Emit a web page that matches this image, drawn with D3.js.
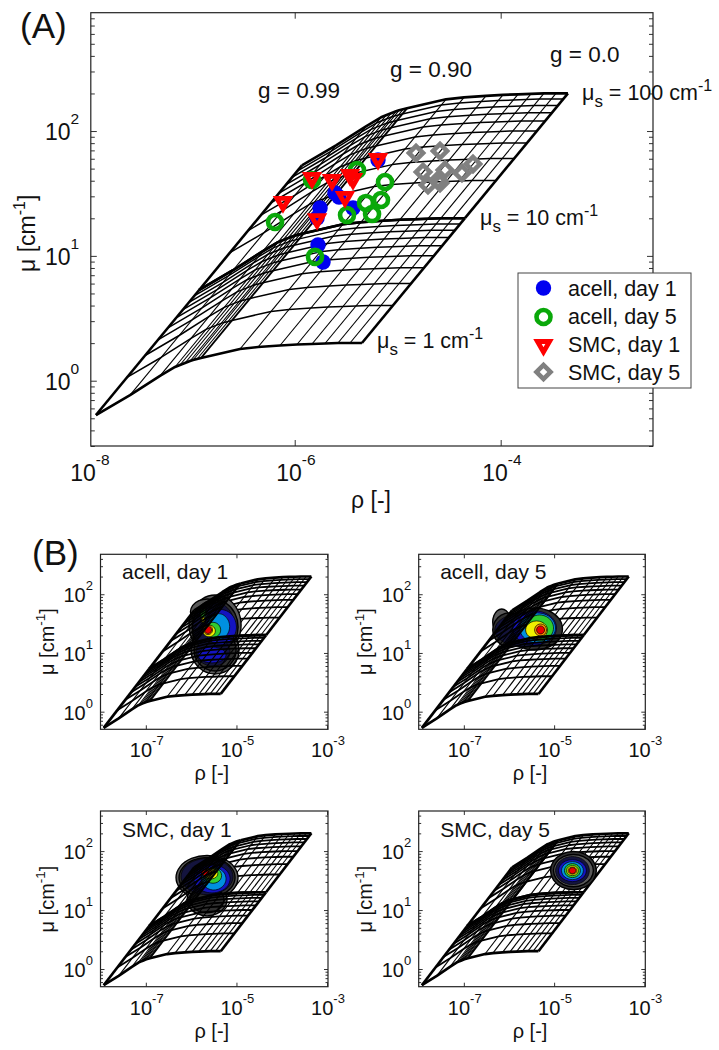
<!DOCTYPE html>
<html><head><meta charset="utf-8">
<style>html,body{margin:0;padding:0;background:#fff}svg{display:block}text{font-family:"Liberation Sans",Arial,sans-serif;fill:#111}</style>
<script src="https://cdn.jsdelivr.net/npm/d3@7"></script></head><body>
<script>
// ---- mesh: position of every constant-g line at mu_s = 1 cm-1 (log10 units)
const meshG      = [0.99,0.98,0.97,0.96,0.95,0.94,0.93,0.92,0.91,0.90,0.8,0.7,0.6,0.5,0.4,0.3,0.2,0.1,0.0];
const meshLogRho = [-7.93,-7.599,-7.308,-7.162,-7.114,-7.065,-7.016,-6.987,-6.948,-6.91,-6.531,-6.356,-6.143,-5.978,-5.832,-5.706,-5.58,-5.463,-5.347];
const meshLogMu  = [-0.275,-0.115,0.038,0.11,0.126,0.142,0.158,0.166,0.174,0.182,0.254,0.27,0.282,0.29,0.294,0.298,0.302,0.302,0.302];
const musLow  = [1,2,3,4,5,6,7,8,9,10];
const musHigh = [10,20,30,40,50,60,70,80,90,100];
// ---- markers of panel A (log10 rho, log10 mu)
const acellDay1 = [[-5.754,1.384],[-5.609,1.504],[-5.434,1.384],[-5.191,1.768],[-5.774,1.087],[-5.725,0.951],[-5.783,1.303],[-5.57,1.472]];
const acellDay5 = [[-6.191,1.271],[-5.803,0.992],[-5.492,1.327],[-5.308,1.424],[-5.162,1.448],[-5.249,1.335],[-5.123,1.592],[-5.395,1.688],[-5.832,1.608]];
const smcDay1   = [[-6.114,1.432],[-5.832,1.624],[-5.638,1.608],[-5.463,1.648],[-5.434,1.616],[-5.512,1.472],[-5.783,1.295],[-5.191,1.776]];
const smcDay5   = [[-4.822,1.824],[-4.589,1.84],[-4.754,1.672],[-4.541,1.688],[-4.706,1.568],[-4.589,1.584],[-4.608,1.608],[-4.376,1.664],[-4.269,1.736]];
const legendNames = ["acell, day 1","acell, day 5","SMC, day 1","SMC, day 5"];
// ---- colour levels of the density plots, outside to inside
const levelColors = ["#5a5a5a","#303030","#14143e","#1414c0","#0090e0","#20d8c0","#30cc30","#f0f000","#ff9000","#e80000"];
// each contour: [level, log10 rho, log10 mu, half-width, half-height] in decades
const contoursAcell1 = [[0,-5.472,1.477,.574,.511],[0,-5.472,1.051,.53,.409],[0,-5.64,1.70,.375,.22],
 [1,-5.472,1.443,.508,.46],[1,-5.472,1.051,.464,.358],[2,-5.494,1.426,.464,.443],[2,-5.517,1.017,.375,.239],
 [3,-5.35,1.44,.35,.30],[3,-5.539,0.966,.309,.136],[4,-5.40,1.45,.25,.22],[6,-5.517,1.392,.17,.13],
 [7,-5.605,1.375,.14,.10],[8,-5.627,1.392,.10,.08],[9,-5.627,1.392,.077,.06],[6,-5.737,1.681,.066,.085],[7,-5.737,1.562,.044,.051]];
const contoursAcell5 = [[0,-6.161,1.528,.199,.221],[1,-5.985,1.392,.375,.29],[1,-5.433,1.409,.618,.358],
 [2,-5.653,1.392,.662,.29],[3,-5.433,1.426,.486,.29],[4,-5.366,1.426,.397,.256],[6,-5.322,1.426,.309,.221],
 [7,-5.389,1.392,.243,.153],[8,-5.3,1.392,.132,.102],[9,-5.3,1.392,.088,.068]];
const contoursSmc1 = [[0,-5.649,1.55,.684,.375],[0,-5.649,1.175,.442,.273],[1,-5.649,1.55,.618,.341],[1,-5.649,1.175,.375,.221],
 [2,-5.649,1.567,.574,.307],[3,-5.54,1.53,.40,.24],[4,-5.50,1.53,.27,.19],[6,-5.517,1.584,.19,.13],
 [7,-5.561,1.618,.15,.09],[8,-5.649,1.635,.11,.06],[9,-5.693,1.635,.08,.05]];
const contoursSmc5 = [[1,-4.572,1.669,.508,.324],[0,-4.572,1.669,.442,.273],[2,-4.594,1.669,.375,.239],[3,-4.594,1.669,.309,.187],
 [4,-4.594,1.669,.243,.153],[6,-4.594,1.669,.177,.119],[7,-4.594,1.669,.132,.085],[8,-4.594,1.669,.099,.06],[9,-4.594,1.669,.077,.051]];
const panelNames = ["acell, day 1","acell, day 5","SMC, day 1","SMC, day 5"];
const panelContours = [contoursAcell1,contoursAcell5,contoursSmc1,contoursSmc5];
const mainXTicks = [-8,-6,-4], mainYTicks = [0,1,2];
const smallXTicks = [-7,-5,-3], smallYTicks = [0,1,2];

const svg = d3.select("body").append("svg").attr("width",719).attr("height",1050).attr("viewBox","0 0 719 1050");
svg.append("rect").attr("width",719).attr("height",1050).attr("fill","#fff");

function makeScales(box,xd,yd){
  return {x:d3.scaleLog().domain(xd.map(v=>10**v)).range([box.l,box.r]),
          y:d3.scaleLog().domain(yd.map(v=>10**v)).range([box.b,box.t])};
}
function drawMesh(g,s,w,opt){
  const px=(i,m)=>s.x(10**meshLogRho[i]*m), py=(i,m)=>s.y(10**meshLogMu[i]*m);
  const line=d3.line().x(d=>px(d.i,d.m)).y(d=>py(d.i,d.m));
  const idx=meshG.map((_,i)=>i).filter(i=>meshG[i]>=opt.gMin&&meshG[i]<=opt.gMax);
  const mids=opt.mus;
  // curves of constant scattering
  mids.forEach(m=>{
    const heavy=(m===1||m===10||m===100);
    g.append("path").attr("d",line(idx.map(i=>({i,m})))).attr("fill","none").attr("stroke","#000")
      .attr("stroke-width",heavy?w.heavy:w.curve).attr("stroke-linejoin","round");
  });
  // lines of constant anisotropy
  idx.forEach(i=>{
    const heavy=(meshG[i]===0.99||meshG[i]===0);
    const mid=meshG[i]===0.9;
    g.append("path").attr("d",line([{i,m:mids[0]},{i,m:mids[mids.length-1]}])).attr("fill","none").attr("stroke","#000")
      .attr("stroke-width",heavy?w.heavy:(mid?w.mid:w.thin));
  });
}
function drawFrame(s,box,xt,yt,major,minor){
  const gg=svg.append("g");
  const minors=[];
  d3.range(Math.floor(Math.log10(s.y.domain()[0])),Math.ceil(Math.log10(s.y.domain()[1]))).forEach(d=>{
    d3.range(2,10).forEach(n=>{const v=n*10**d; if(v>=s.y.domain()[0]&&v<=s.y.domain()[1]) minors.push(v);});
  });
  const xv=xt.map(v=>10**v).filter(v=>v>=s.x.domain()[0]&&v<=s.x.domain()[1]), yv=yt.map(v=>10**v);
  const add=(axis,tr)=>{const a=gg.append("g").attr("transform",tr).call(axis);a.select(".domain").remove();a.selectAll("line").attr("stroke","#333").attr("stroke-width",1);a.selectAll("text").remove();};
  add(d3.axisBottom(s.x).tickValues(xv).tickSize(-major),`translate(0,${box.b})`);
  add(d3.axisTop(s.x).tickValues(xv).tickSize(-major),`translate(0,${box.t})`);
  add(d3.axisLeft(s.y).tickValues(yv).tickSize(-major),`translate(${box.l},0)`);
  add(d3.axisRight(s.y).tickValues(yv).tickSize(-major),`translate(${box.r},0)`);
  add(d3.axisLeft(s.y).tickValues(minors).tickSize(-minor),`translate(${box.l},0)`);
  add(d3.axisRight(s.y).tickValues(minors).tickSize(-minor),`translate(${box.r},0)`);
  gg.append("rect").attr("x",box.l).attr("y",box.t).attr("width",box.r-box.l).attr("height",box.b-box.t)
    .attr("fill","none").attr("stroke","#222").attr("stroke-width",1.2);
}
function pow10(x,y,exp,size,supSize,rise,parent){
  const t=(parent||svg).append("text").attr("x",x).attr("y",y).attr("font-size",size);
  t.append("tspan").text("10");
  t.append("tspan").attr("dy",-rise).attr("font-size",supSize).text(exp);
  return t;
}
function muTitle(x,y,size,supSize){
  const t=svg.append("text").attr("transform",`translate(${x},${y}) rotate(-90)`).attr("font-size",size);
  t.append("tspan").text("μ [cm");
  t.append("tspan").attr("dy",-size*0.42).attr("font-size",supSize).text("-1");
  t.append("tspan").attr("dy",size*0.42).text("]");
}
function musLabel(x,y,val){
  const t=svg.append("text").attr("x",x).attr("y",y).attr("font-size",21.5);
  t.append("tspan").text("μ");
  t.append("tspan").attr("dy",7).attr("font-size",17).text("s");
  t.append("tspan").attr("dy",-7).text(" = "+val+" cm");
  t.append("tspan").attr("dy",-9).attr("font-size",16).text("-1");
}

// ---------- panel A
const A={l:90.8,r:653,t:12.7,b:446};
const sA=makeScales(A,[-7.98,-2.521],[-0.523,2.948]);
const wA={thin:1.1,mid:1.9,curve:1.5,heavy:2.6};
drawFrame(sA,A,mainXTicks,mainYTicks,6,4);
const meshA=svg.append("g");
drawMesh(meshA,sA,wA,{gMin:0,gMax:1,mus:musLow});
drawMesh(meshA,sA,wA,{gMin:0,gMax:1,mus:musHigh});

const px=d=>sA.x(10**d[0]), py=d=>sA.y(10**d[1]);
function marker(sel,kind){
  if(kind===0) sel.append("circle").attr("r",7.7).attr("fill","#0000f0");
  if(kind===1) sel.append("circle").attr("r",7).attr("fill","none").attr("stroke","#0aa80a").attr("stroke-width",4.6);
  if(kind===2) sel.append("path").attr("d",d3.symbol().type(d3.symbolTriangle).size(64)()).attr("transform","rotate(180)")
      .attr("fill","none").attr("stroke","#ff0000").attr("stroke-width",4.8);
  if(kind===3) sel.append("path").attr("d",d3.symbol().type(d3.symbolSquare).size(100)()).attr("transform","rotate(45)")
      .attr("fill","none").attr("stroke","#808080").attr("stroke-width",4.6);
}
[acellDay1,acellDay5,smcDay1,smcDay5].forEach((arr,k)=>{
  arr.forEach(d=>{ marker(svg.append("g").attr("transform",`translate(${px(d)},${py(d)})`),k); });
});
mainXTicks.forEach(v=>pow10(sA.x(10**v)-18.5,481,String(v),23,15.5,16));
mainYTicks.forEach(v=>pow10(45,sA.y(10**v)+9,String(v),23,15.5,16));
svg.append("text").attr("x",371).attr("y",508).attr("text-anchor","middle").attr("font-size",23).text("ρ [-]");
muTitle(35,272,23,16);
svg.append("text").attr("x",20).attr("y",38).attr("font-size",35).text("(A)");
svg.append("text").attr("x",32).attr("y",565).attr("font-size",35).text("(B)");
[["g = 0.99",258,98],["g = 0.90",390,77],["g = 0.0",550,62]].forEach(d=>svg.append("text").attr("x",d[1]).attr("y",d[2]).attr("font-size",22.5).text(d[0]));
musLabel(582,100,100); musLabel(480,225,10); musLabel(377,348,1);

// legend
const lg=svg.append("g");
lg.append("rect").attr("x",518).attr("y",273).attr("width",173).attr("height",115).attr("fill","#fff").attr("stroke","#444").attr("stroke-width",1);
legendNames.forEach((n,i)=>{
  const y=[288,317,345,372][i];
  marker(lg.append("g").attr("transform",`translate(543.5,${y})`),i);
  lg.append("text").attr("x",568).attr("y",[296,324,352,380][i]).attr("font-size",21.5).text(n);
});

// ---------- panels B
const boxes=[{l:100.5,r:328,t:554.3,b:729.3},{l:418.7,r:645.3,t:554.3,b:729.3},{l:100.5,r:328,t:811,b:986.7},{l:418.7,r:645.3,t:811,b:986.7}];
const wS={thin:1.1,mid:1.8,curve:1.8,heavy:2.7};
boxes.forEach((b,i)=>{
  const s=makeScales(b,[-8,-2.98],[-0.3,2.68]);
  drawFrame(s,b,smallXTicks,smallYTicks,4,2.5);
  const g=svg.append("g");
  drawMesh(g,s,wS,{gMin:0,gMax:0.9,mus:musHigh});
  const c=svg.append("g");
  const ell=d3.line().curve(d3.curveCardinalClosed);
  panelContours[i].forEach(e=>{
    const cx=s.x(10**e[1]),cy=s.y(10**e[2]);
    const rx=s.x(10**(e[1]+e[3]))-cx, ry=cy-s.y(10**(e[2]+e[4]));
    const pts=d3.range(0,360,30).map(a=>[cx+rx*Math.cos(a*Math.PI/180),cy+ry*Math.sin(a*Math.PI/180)]);
    c.append("path").attr("d",ell(pts)).attr("fill",levelColors[e[0]]).attr("stroke","#000").attr("stroke-width",e[0]<2?1.4:0.7);
  });
  const top=svg.append("g");
  drawMesh(top,s,wS,{gMin:0.9,gMax:1,mus:musHigh});
  drawMesh(top,s,wS,{gMin:0,gMax:1,mus:musLow});
  const row=i<2?0:257.5;
  smallXTicks.forEach(v=>pow10(s.x(10**v)-16,757+row,String(v),20,13,12));
  smallYTicks.forEach(v=>pow10(b.l-37,s.y(10**v)+8,String(v),20,13,12));
  svg.append("text").attr("x",b.l+111.3).attr("y",780+row).attr("text-anchor","middle").attr("font-size",20).text("ρ [-]");
  muTitle(b.l-46.7,675+row,20,13.5);
  svg.append("text").attr("x",b.l+21.5).attr("y",579+row).attr("font-size",21).text(panelNames[i]);
});
</script></body></html>
